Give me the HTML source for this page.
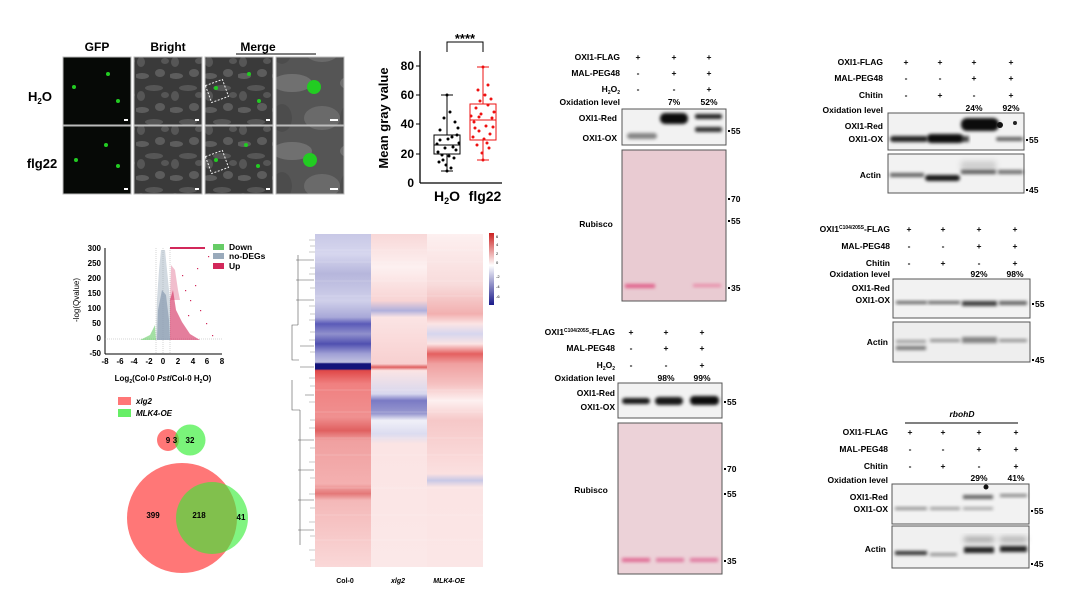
<!DOCTYPE html>
<html><head><meta charset="utf-8"><style>
html,body{margin:0;padding:0;background:#fff;width:1080px;height:608px;overflow:hidden}
svg{display:block;font-family:"Liberation Sans",Arial,sans-serif;font-weight:bold}
</style></head><body>
<svg width="1080" height="608" viewBox="0 0 1080 608" xmlns="http://www.w3.org/2000/svg">
<defs>
<filter id="b1" x="-20%" y="-80%" width="140%" height="260%"><feGaussianBlur stdDeviation="1.5"/></filter>
<filter id="b2" x="-20%" y="-80%" width="140%" height="260%"><feGaussianBlur stdDeviation="3"/></filter>
<filter id="b3" x="-20%" y="-20%" width="140%" height="140%"><feGaussianBlur stdDeviation="2"/></filter>
<pattern id="tex" width="34" height="34" patternUnits="userSpaceOnUse">
<rect width="34" height="34" fill="#3a3a3a"/>
<ellipse cx="6" cy="8" rx="7" ry="3" fill="#888" fill-opacity=".45"/>
<ellipse cx="24" cy="5" rx="5" ry="4" fill="#999" fill-opacity=".35"/>
<ellipse cx="18" cy="20" rx="9" ry="3" fill="#777" fill-opacity=".45"/>
<ellipse cx="5" cy="28" rx="4" ry="5" fill="#888" fill-opacity=".35"/>
<ellipse cx="29" cy="27" rx="4" ry="3" fill="#888" fill-opacity=".35"/>
</pattern>
<pattern id="tex2" width="68" height="68" patternUnits="userSpaceOnUse">
<rect width="68" height="68" fill="#555"/>
<ellipse cx="20" cy="15" rx="20" ry="9" fill="#999" fill-opacity=".4"/>
<ellipse cx="50" cy="50" rx="18" ry="12" fill="#8a8a8a" fill-opacity=".4"/>
<ellipse cx="10" cy="50" rx="10" ry="14" fill="#444" fill-opacity=".5"/>
</pattern>
<linearGradient id="h0" x1="0" y1="0" x2="0" y2="1">
<stop offset="0" stop-color="#c8c8e6"/><stop offset=".06" stop-color="#d6d6ee"/><stop offset=".12" stop-color="#b6b6dc"/><stop offset=".2" stop-color="#d0d0ea"/><stop offset=".25" stop-color="#a8a8d8"/><stop offset=".27" stop-color="#5a5ab8"/><stop offset=".3" stop-color="#9090cc"/><stop offset=".33" stop-color="#5050b0"/><stop offset=".36" stop-color="#a0a0d5"/><stop offset=".385" stop-color="#c0c0e0"/><stop offset=".39" stop-color="#14147a"/><stop offset=".405" stop-color="#14147a"/><stop offset=".41" stop-color="#e04848"/><stop offset=".45" stop-color="#f08080"/><stop offset=".55" stop-color="#f09090"/><stop offset=".59" stop-color="#e06060"/><stop offset=".62" stop-color="#f0a0a0"/><stop offset=".75" stop-color="#f4b0b0"/><stop offset=".78" stop-color="#e47878"/><stop offset=".8" stop-color="#f4b8b8"/><stop offset="1" stop-color="#fad8d8"/></linearGradient>
<linearGradient id="h1" x1="0" y1="0" x2="0" y2="1">
<stop offset="0" stop-color="#f8d8d8"/><stop offset=".1" stop-color="#fdf0f0"/><stop offset=".2" stop-color="#f8d4d4"/><stop offset=".23" stop-color="#b0b0dc"/><stop offset=".25" stop-color="#fbe4e4"/><stop offset=".39" stop-color="#f8d0d0"/><stop offset=".4" stop-color="#e06060"/><stop offset=".41" stop-color="#fbe4e4"/><stop offset=".48" stop-color="#d8d8ee"/><stop offset=".5" stop-color="#7a7ac4"/><stop offset=".54" stop-color="#9a9ad0"/><stop offset=".56" stop-color="#f0f0f8"/><stop offset=".6" stop-color="#dcdcf0"/><stop offset=".63" stop-color="#fbe4e4"/><stop offset="1" stop-color="#fbe8e8"/></linearGradient>
<linearGradient id="h2" x1="0" y1="0" x2="0" y2="1">
<stop offset="0" stop-color="#fdf0f0"/><stop offset=".15" stop-color="#f8dcdc"/><stop offset=".24" stop-color="#f2b0b0"/><stop offset=".27" stop-color="#fbe4e4"/><stop offset=".3" stop-color="#d6d6ee"/><stop offset=".33" stop-color="#fbe4e4"/><stop offset=".36" stop-color="#e46060"/><stop offset=".39" stop-color="#f0a0a0"/><stop offset=".45" stop-color="#f5c0c0"/><stop offset=".5" stop-color="#fdf0f0"/><stop offset=".56" stop-color="#f6c8c8"/><stop offset=".72" stop-color="#fbe0e0"/><stop offset=".74" stop-color="#c8c8e6"/><stop offset=".76" stop-color="#fbe4e4"/><stop offset="1" stop-color="#fbe6e6"/></linearGradient>
<linearGradient id="cb" x1="0" y1="0" x2="0" y2="1"><stop offset="0" stop-color="#c22"/><stop offset=".45" stop-color="#fff"/><stop offset="1" stop-color="#1a1a8a"/></linearGradient>
</defs>

<!-- microscopy -->
<g font-size="12" text-anchor="middle">
<text x="97" y="51">GFP</text><text x="168" y="51">Bright</text><text x="258" y="51">Merge</text>
<line x1="236" y1="54" x2="316" y2="54" stroke="#000"/>
<text x="40" y="101" font-size="13">H<tspan font-size="8" dy="3">2</tspan><tspan dy="-3">O</tspan></text>
<text x="42" y="168" font-size="13">flg22</text>
</g>
<g stroke="#bbb">
<rect x="63" y="57" width="68" height="68" fill="#060906"/><rect x="134" y="57" width="68" height="68" fill="url(#tex)"/><rect x="205" y="57" width="68" height="68" fill="url(#tex)"/><rect x="276" y="57" width="68" height="68" fill="url(#tex2)"/>
<rect x="63" y="126" width="68" height="68" fill="#060906"/><rect x="134" y="126" width="68" height="68" fill="url(#tex)"/><rect x="205" y="126" width="68" height="68" fill="url(#tex)"/><rect x="276" y="126" width="68" height="68" fill="url(#tex2)"/>
</g>
<g fill="#2c2">
<circle cx="74" cy="87" r="2"/><circle cx="108" cy="74" r="2"/><circle cx="118" cy="101" r="2"/>
<circle cx="76" cy="160" r="2"/><circle cx="106" cy="145" r="2"/><circle cx="118" cy="166" r="2"/>
<circle cx="216" cy="88" r="2"/><circle cx="249" cy="74" r="2"/><circle cx="259" cy="101" r="2"/>
<circle cx="216" cy="160" r="2"/><circle cx="246" cy="145" r="2"/><circle cx="258" cy="166" r="2"/>
<circle cx="314" cy="87" r="7"/><circle cx="310" cy="160" r="7"/>
</g>
<g fill="none" stroke="#eee" stroke-dasharray="2,1.5">
<rect x="208" y="82" width="18" height="18" transform="rotate(-20 217 91)"/><rect x="208" y="153" width="18" height="18" transform="rotate(-20 217 162)"/>
</g>
<g fill="#fff"><rect x="124" y="119" width="4" height="2"/><rect x="195" y="119" width="4" height="2"/><rect x="266" y="119" width="4" height="2"/><rect x="330" y="119" width="8" height="2"/>
<rect x="124" y="188" width="4" height="2"/><rect x="195" y="188" width="4" height="2"/><rect x="266" y="188" width="4" height="2"/><rect x="330" y="188" width="8" height="2"/></g>

<!-- boxplot -->
<g font-size="12">
<line x1="420" y1="51" x2="420" y2="183" stroke="#000" stroke-width="1.3"/>
<line x1="420" y1="183" x2="502" y2="183" stroke="#000" stroke-width="1.3"/>
<g text-anchor="end"><text x="414" y="70">80</text><text x="414" y="99">60</text><text x="414" y="128">40</text><text x="414" y="158">20</text><text x="414" y="187">0</text></g>
<g stroke="#000"><line x1="416" y1="66" x2="420" y2="66"/><line x1="416" y1="95" x2="420" y2="95"/><line x1="416" y1="124" x2="420" y2="124"/><line x1="416" y1="154" x2="420" y2="154"/></g>
<text transform="translate(388,118) rotate(-90)" text-anchor="middle" font-size="13">Mean gray value</text>
<text x="447" y="201" text-anchor="middle" font-size="14">H<tspan font-size="9" dy="3">2</tspan><tspan dy="-3">O</tspan></text>
<text x="485" y="201" text-anchor="middle" font-size="14">flg22</text>
<path d="M447 52 V42 H483 V52" fill="none" stroke="#000"/>
<text x="465" y="43" text-anchor="middle" font-size="13">****</text>
</g>
<g stroke="#000" fill="none">
<line x1="447" y1="95" x2="447" y2="171"/><line x1="441" y1="95" x2="453" y2="95"/><line x1="441" y1="171" x2="453" y2="171"/>
<rect x="434" y="135" width="26" height="19" fill="#fff"/><line x1="434" y1="145" x2="460" y2="145"/>
</g>
<g fill="#000">
<circle cx="440" cy="140" r="1.5"/><circle cx="452" cy="137" r="1.5"/><circle cx="445" cy="148" r="1.5"/><circle cx="456" cy="150" r="1.5"/><circle cx="438" cy="152" r="1.5"/><circle cx="449" cy="156" r="1.5"/><circle cx="443" cy="160" r="1.5"/><circle cx="454" cy="158" r="1.5"/><circle cx="446" cy="165" r="1.5"/><circle cx="451" cy="168" r="1.5"/><circle cx="458" cy="128" r="1.5"/><circle cx="440" cy="130" r="1.5"/><circle cx="455" cy="122" r="1.5"/><circle cx="444" cy="118" r="1.5"/><circle cx="450" cy="112" r="1.5"/><circle cx="437" cy="144" r="1.5"/><circle cx="459" cy="143" r="1.5"/><circle cx="448" cy="139" r="1.5"/><circle cx="442" cy="155" r="1.5"/><circle cx="453" cy="147" r="1.5"/><circle cx="447" cy="171" r="1.5"/><circle cx="447" cy="95" r="1.5"/><circle cx="439" cy="162" r="1.5"/><circle cx="457" cy="135" r="1.5"/>
</g>
<g stroke="#e11" fill="none">
<line x1="483" y1="67" x2="483" y2="160"/><line x1="477" y1="67" x2="489" y2="67"/><line x1="477" y1="160" x2="489" y2="160"/>
<rect x="470" y="104" width="26" height="36" fill="#fff"/><line x1="470" y1="120" x2="496" y2="120"/>
</g>
<g fill="#e11">
<circle cx="476" cy="108" r="1.5"/><circle cx="488" cy="105" r="1.5"/><circle cx="481" cy="114" r="1.5"/><circle cx="492" cy="118" r="1.5"/><circle cx="474" cy="122" r="1.5"/><circle cx="486" cy="126" r="1.5"/><circle cx="479" cy="131" r="1.5"/><circle cx="490" cy="134" r="1.5"/><circle cx="473" cy="137" r="1.5"/><circle cx="484" cy="139" r="1.5"/><circle cx="477" cy="145" r="1.5"/><circle cx="489" cy="148" r="1.5"/><circle cx="482" cy="153" r="1.5"/><circle cx="483" cy="160" r="1.5"/><circle cx="485" cy="95" r="1.5"/><circle cx="478" cy="90" r="1.5"/><circle cx="488" cy="85" r="1.5"/><circle cx="483" cy="67" r="1.5"/><circle cx="494" cy="112" r="1.5"/><circle cx="471" cy="116" r="1.5"/><circle cx="480" cy="101" r="1.5"/><circle cx="491" cy="99" r="1.5"/><circle cx="475" cy="128" r="1.5"/><circle cx="493" cy="127" r="1.5"/><circle cx="487" cy="143" r="1.5"/><circle cx="479" cy="117" r="1.5"/>
</g>

<!-- volcano -->
<g font-size="8">
<line x1="105" y1="248" x2="105" y2="354" stroke="#000"/>
<line x1="105" y1="354" x2="222" y2="354" stroke="#000"/>
<g text-anchor="end"><text x="101" y="251">300</text><text x="101" y="266">250</text><text x="101" y="281">200</text><text x="101" y="296">150</text><text x="101" y="311">100</text><text x="101" y="326">50</text><text x="101" y="341">0</text><text x="101" y="356">-50</text></g>
<g text-anchor="middle"><text x="105" y="364">-8</text><text x="120" y="364">-6</text><text x="134" y="364">-4</text><text x="149" y="364">-2</text><text x="163" y="364">0</text><text x="178" y="364">2</text><text x="193" y="364">4</text><text x="207" y="364">6</text><text x="222" y="364">8</text></g>
<text transform="translate(79,300) rotate(-90)" text-anchor="middle" font-weight="normal">-log(Qvalue)</text>
<text x="163" y="381" text-anchor="middle">Log<tspan font-size="5" dy="2">2</tspan><tspan dy="-2">(Col-0 </tspan><tspan font-style="italic">Pst</tspan>/Col-0 H<tspan font-size="5" dy="2">2</tspan><tspan dy="-2">O)</tspan></text>
<rect x="213" y="244" width="11" height="6" fill="#6c6"/><text x="229" y="250" font-size="8.5">Down</text>
<rect x="213" y="253" width="11" height="6" fill="#9ab"/><text x="229" y="259" font-size="8.5">no-DEGs</text>
<rect x="213" y="263" width="11" height="6" fill="#d2285a"/><text x="229" y="269" font-size="8.5">Up</text>
</g>
<g stroke="#aaa" stroke-width=".5" stroke-dasharray="1,1"><line x1="105" y1="339" x2="222" y2="339"/><line x1="156" y1="248" x2="156" y2="354"/><line x1="163" y1="248" x2="163" y2="354"/><line x1="170" y1="248" x2="170" y2="354"/></g>
<path d="M156 340 L157 300 L159 270 L161 250 L165 250 L168 280 L170 300 L170 340 Z" fill="#9ab" fill-opacity=".45"/>
<path d="M157 340 L158 310 L162 290 L166 295 L169 320 L170 340 Z" fill="#8a9bb0" fill-opacity=".7"/>
<path d="M170 340 L170 300 L173 290 L176 310 L182 322 L190 334 L200 340 Z" fill="#d2285a" fill-opacity=".6"/>
<path d="M170 300 L171 265 L175 270 L178 290 L180 300 Z" fill="#d2285a" fill-opacity=".3"/>
<rect x="170" y="247" width="35" height="2" fill="#d2285a"/>
<path d="M156 340 L155 325 L150 335 L140 340 Z" fill="#6c6" fill-opacity=".6"/>
<g fill="#d2285a"><rect x="185" y="290" width="1.2" height="1.2"/><rect x="190" y="300" width="1.2" height="1.2"/><rect x="195" y="285" width="1.2" height="1.2"/><rect x="200" y="310" width="1.2" height="1.2"/><rect x="206" y="323" width="1.2" height="1.2"/><rect x="212" y="335" width="1.2" height="1.2"/><rect x="182" y="275" width="1.2" height="1.2"/><rect x="208" y="256" width="1.2" height="1.2"/><rect x="197" y="268" width="1.2" height="1.2"/><rect x="188" y="315" width="1.2" height="1.2"/></g>

<!-- venn -->
<rect x="118" y="397" width="13" height="8" fill="#f77"/>
<text x="136" y="404" font-size="8" font-style="italic">xlg2</text>
<rect x="118" y="409" width="13" height="8" fill="#6e6"/>
<text x="136" y="416" font-size="8" font-style="italic">MLK4-OE</text>
<circle cx="168" cy="440" r="11" fill="#f55" fill-opacity=".8"/>
<circle cx="190" cy="440" r="15.5" fill="#3e3" fill-opacity=".65"/>
<circle cx="182" cy="518" r="55" fill="#f55" fill-opacity=".8"/>
<circle cx="212" cy="518" r="36" fill="#3e3" fill-opacity=".62"/>
<g font-size="8" text-anchor="middle"><text x="168" y="443">9</text><text x="175" y="443">3</text><text x="190" y="443">32</text>
<text x="153" y="518">399</text><text x="199" y="518">218</text><text x="241" y="520">41</text></g>

<!-- heatmap -->
<rect x="315" y="234" width="56" height="333" fill="url(#h0)"/>
<rect x="371" y="234" width="56" height="333" fill="url(#h1)"/>
<rect x="427" y="234" width="56" height="333" fill="url(#h2)"/>
<g stroke="#fff" stroke-opacity=".35" stroke-width=".6">
<line x1="315" y1="250" x2="483" y2="250"/><line x1="315" y1="262" x2="483" y2="262"/><line x1="315" y1="281" x2="483" y2="281"/><line x1="315" y1="296" x2="483" y2="296"/><line x1="315" y1="390" x2="483" y2="390"/><line x1="315" y1="412" x2="483" y2="412"/><line x1="315" y1="438" x2="483" y2="438"/><line x1="315" y1="455" x2="483" y2="455"/><line x1="315" y1="488" x2="483" y2="488"/><line x1="315" y1="515" x2="483" y2="515"/><line x1="315" y1="540" x2="483" y2="540"/></g>
<path d="M299 360 H292 V325 H298 M292 380 V410 H300 M298 325 V255 M300 410 V545 M296 260 H314 M296 300 H314 M298 440 H314 M298 500 H314 M300 367 H314 M300 346 H314 M296 280 H314 M298 470 H314 M298 530 H314 M305 395 H314" fill="none" stroke="#555" stroke-width=".6"/>
<g stroke="#777" stroke-width=".4"><path d="M309 240 H315 M310 246 H315 M309 252 H315 M310 268 H315 M309 274 H315 M310 288 H315 M309 306 H315 M310 314 H315 M309 320 H315 M310 332 H315 M309 340 H315 M310 352 H315 M309 378 H315 M310 386 H315 M309 402 H315 M310 420 H315 M309 428 H315 M310 448 H315 M309 462 H315 M310 478 H315 M309 494 H315 M310 508 H315 M309 522 H315 M310 536 H315 M309 550 H315 M310 560 H315"/></g>
<g font-size="7" text-anchor="middle"><text x="345" y="583">Col-0</text><text x="398" y="583" font-style="italic">xlg2</text><text x="449" y="583" font-style="italic">MLK4-OE</text></g>
<rect x="489" y="233" width="5" height="72" fill="url(#cb)"/>
<g font-size="4" font-weight="normal"><text x="496" y="238">6</text><text x="496" y="246">4</text><text x="496" y="255">2</text><text x="496" y="264">0</text><text x="496" y="278">-2</text><text x="496" y="288">-4</text><text x="496" y="298">-6</text></g>

<!-- blots -->
<g font-size="8.5">
<g text-anchor="end"><text x="620" y="60">OXI1-FLAG</text><text x="620" y="76">MAL-PEG48</text><text x="620" y="92">H<tspan font-size="5" dy="2">2</tspan><tspan dy="-2">O</tspan><tspan font-size="5" dy="2">2</tspan></text><text x="620" y="105">Oxidation level</text>
<text x="617" y="121">OXI1-Red</text><text x="617" y="141">OXI1-OX</text></g>
<g text-anchor="middle"><text x="638" y="60">+</text><text x="674" y="60">+</text><text x="709" y="60">+</text><text x="638" y="76">-</text><text x="674" y="76">+</text><text x="709" y="76">+</text><text x="638" y="92">-</text><text x="674" y="92">-</text><text x="709" y="92">+</text><text x="674" y="105">7%</text><text x="709" y="105">52%</text><text x="596" y="227">Rubisco</text></g>
<rect x="622" y="109" width="104" height="36" fill="#f2f2f2" stroke="#555"/>
<rect x="627" y="133" width="30" height="6" rx="3" fill-opacity=".45" filter="url(#b1)"/>
<rect x="660" y="113" width="28" height="11" rx="5" fill-opacity=".95" filter="url(#b1)"/>
<rect x="695" y="114" width="27" height="5" rx="2" fill-opacity=".85" filter="url(#b1)"/>
<rect x="695" y="127" width="27" height="5" rx="2" fill-opacity=".8" filter="url(#b1)"/>
<rect x="622" y="150" width="104" height="151" fill="#e9cbd2" stroke="#555"/>
<rect x="625" y="284" width="30" height="4" fill="#e0608a" filter="url(#b1)"/><rect x="693" y="284" width="28" height="3" fill="#e88aa8" filter="url(#b1)"/>
<g><rect x="728" y="130" width="2" height="2"/><text x="731" y="134">55</text><rect x="728" y="198" width="2" height="2"/><text x="731" y="202">70</text><rect x="728" y="220" width="2" height="2"/><text x="731" y="224">55</text><rect x="728" y="287" width="2" height="2"/><text x="731" y="291">35</text></g>

<g text-anchor="end"><text x="615" y="335">OXI1<tspan font-size="5" dy="-3">C104/205S</tspan><tspan dy="3">-FLAG</tspan></text><text x="615" y="351">MAL-PEG48</text><text x="615" y="368">H<tspan font-size="5" dy="2">2</tspan><tspan dy="-2">O</tspan><tspan font-size="5" dy="2">2</tspan></text><text x="615" y="381">Oxidation level</text>
<text x="615" y="396">OXI1-Red</text><text x="615" y="410">OXI1-OX</text></g>
<g text-anchor="middle"><text x="631" y="335">+</text><text x="666" y="335">+</text><text x="702" y="335">+</text><text x="631" y="351">-</text><text x="666" y="351">+</text><text x="702" y="351">+</text><text x="631" y="368">-</text><text x="666" y="368">-</text><text x="702" y="368">+</text><text x="666" y="381">98%</text><text x="702" y="381">99%</text><text x="591" y="493">Rubisco</text></g>
<rect x="618" y="383" width="104" height="35" fill="#f2f2f2" stroke="#555"/>
<rect x="622" y="398" width="28" height="6" rx="3" fill-opacity=".9" filter="url(#b1)"/>
<rect x="655" y="397" width="28" height="8" rx="4" fill-opacity=".9" filter="url(#b1)"/>
<rect x="690" y="396" width="29" height="9" rx="4" fill-opacity=".95" filter="url(#b1)"/>
<rect x="618" y="423" width="104" height="151" fill="#ecd2d8" stroke="#555"/>
<rect x="622" y="558" width="28" height="4" fill="#e06a94" filter="url(#b1)"/><rect x="656" y="558" width="28" height="4" fill="#e07aa0" filter="url(#b1)"/><rect x="690" y="558" width="28" height="4" fill="#e07aa0" filter="url(#b1)"/>
<g><rect x="724" y="401" width="2" height="2"/><text x="727" y="405">55</text><rect x="724" y="468" width="2" height="2"/><text x="727" y="472">70</text><rect x="724" y="493" width="2" height="2"/><text x="727" y="497">55</text><rect x="724" y="560" width="2" height="2"/><text x="727" y="564">35</text></g>

<g text-anchor="end"><text x="883" y="65">OXI1-FLAG</text><text x="883" y="81">MAL-PEG48</text><text x="883" y="98">Chitin</text><text x="883" y="113">Oxidation level</text>
<text x="883" y="129">OXI1-Red</text><text x="883" y="142">OXI1-OX</text><text x="881" y="178">Actin</text></g>
<g text-anchor="middle"><text x="906" y="65">+</text><text x="940" y="65">+</text><text x="974" y="65">+</text><text x="1011" y="65">+</text>
<text x="906" y="81">-</text><text x="940" y="81">-</text><text x="974" y="81">+</text><text x="1011" y="81">+</text>
<text x="906" y="98">-</text><text x="940" y="98">+</text><text x="974" y="98">-</text><text x="1011" y="98">+</text>
<text x="974" y="111">24%</text><text x="1011" y="111">92%</text></g>
<rect x="888" y="113" width="136" height="37" fill="#f2f2f2" stroke="#555"/>
<rect x="890" y="136" width="38" height="6" rx="3" fill-opacity=".85" filter="url(#b1)"/>
<rect x="927" y="134" width="36" height="9" rx="4" fill-opacity=".95" filter="url(#b1)"/>
<rect x="961" y="118" width="38" height="13" rx="6" fill-opacity=".95" filter="url(#b1)"/>
<rect x="961" y="136" width="8" height="6" fill-opacity=".7" filter="url(#b1)"/>
<rect x="996" y="137" width="27" height="4" rx="2" fill-opacity=".6" filter="url(#b1)"/>
<circle cx="1000" cy="125" r="3" fill="#111"/><circle cx="1015" cy="123" r="2" fill="#222"/>
<rect x="888" y="154" width="136" height="39" fill="#f2f2f2" stroke="#555"/>
<rect x="890" y="173" width="34" height="4" fill-opacity=".6" filter="url(#b1)"/>
<rect x="925" y="175" width="35" height="6" rx="3" fill-opacity=".9" filter="url(#b1)"/>
<rect x="961" y="170" width="35" height="4" fill-opacity=".6" filter="url(#b1)"/>
<rect x="998" y="170" width="25" height="4" fill-opacity=".55" filter="url(#b1)"/>
<rect x="961" y="161" width="35" height="10" fill-opacity=".15" filter="url(#b2)"/>
<g><rect x="1026" y="139" width="2" height="2"/><text x="1029" y="143">55</text><rect x="1026" y="189" width="2" height="2"/><text x="1029" y="193">45</text></g>

<g text-anchor="end"><text x="890" y="232">OXI1<tspan font-size="5" dy="-3">C104/205S</tspan><tspan dy="3">-FLAG</tspan></text><text x="890" y="249">MAL-PEG48</text><text x="890" y="266">Chitin</text><text x="890" y="277">Oxidation level</text>
<text x="890" y="291">OXI1-Red</text><text x="890" y="303">OXI1-OX</text><text x="888" y="345">Actin</text></g>
<g text-anchor="middle"><text x="909" y="232">+</text><text x="943" y="232">+</text><text x="979" y="232">+</text><text x="1015" y="232">+</text>
<text x="909" y="249">-</text><text x="943" y="249">-</text><text x="979" y="249">+</text><text x="1015" y="249">+</text>
<text x="909" y="266">-</text><text x="943" y="266">+</text><text x="979" y="266">-</text><text x="1015" y="266">+</text>
<text x="979" y="277">92%</text><text x="1015" y="277">98%</text></g>
<rect x="893" y="279" width="137" height="39" fill="#f2f2f2" stroke="#555"/>
<rect x="896" y="301" width="31" height="3" fill-opacity=".6" filter="url(#b1)"/>
<rect x="928" y="301" width="32" height="3" fill-opacity=".6" filter="url(#b1)"/>
<rect x="962" y="301" width="35" height="5" fill-opacity=".75" filter="url(#b1)"/>
<rect x="999" y="301" width="28" height="4" fill-opacity=".6" filter="url(#b1)"/>
<rect x="893" y="322" width="137" height="40" fill="#eeeeee" stroke="#555"/>
<rect x="896" y="340" width="30" height="3" fill-opacity=".35" filter="url(#b1)"/>
<rect x="896" y="346" width="30" height="4" fill-opacity=".5" filter="url(#b1)"/>
<rect x="930" y="339" width="30" height="3" fill-opacity=".4" filter="url(#b1)"/>
<rect x="962" y="337" width="35" height="6" fill-opacity=".45" filter="url(#b1)"/>
<rect x="999" y="339" width="28" height="3" fill-opacity=".4" filter="url(#b1)"/>
<g><rect x="1032" y="303" width="2" height="2"/><text x="1035" y="307">55</text><rect x="1032" y="359" width="2" height="2"/><text x="1035" y="363">45</text></g>

<text x="962" y="417" text-anchor="middle" font-style="italic">rbohD</text>
<line x1="905" y1="423" x2="1018" y2="423" stroke="#000"/>
<g text-anchor="end"><text x="888" y="435">OXI1-FLAG</text><text x="888" y="452">MAL-PEG48</text><text x="888" y="469">Chitin</text><text x="888" y="483">Oxidation level</text>
<text x="888" y="500">OXI1-Red</text><text x="888" y="512">OXI1-OX</text><text x="886" y="552">Actin</text></g>
<g text-anchor="middle"><text x="910" y="435">+</text><text x="943" y="435">+</text><text x="979" y="435">+</text><text x="1016" y="435">+</text>
<text x="910" y="452">-</text><text x="943" y="452">-</text><text x="979" y="452">+</text><text x="1016" y="452">+</text>
<text x="910" y="469">-</text><text x="943" y="469">+</text><text x="979" y="469">-</text><text x="1016" y="469">+</text>
<text x="979" y="481">29%</text><text x="1016" y="481">41%</text></g>
<rect x="892" y="484" width="137" height="40" fill="#f2f2f2" stroke="#555"/>
<rect x="895" y="507" width="32" height="3" fill-opacity=".4" filter="url(#b1)"/>
<rect x="930" y="507" width="30" height="3" fill-opacity=".35" filter="url(#b1)"/>
<rect x="963" y="495" width="30" height="4" fill-opacity=".6" filter="url(#b1)"/>
<rect x="1000" y="494" width="27" height="3" fill-opacity=".45" filter="url(#b1)"/>
<rect x="963" y="507" width="30" height="3" fill-opacity=".3" filter="url(#b1)"/>
<circle cx="986" cy="487" r="2.5" fill="#111"/>
<rect x="892" y="526" width="137" height="42" fill="#f0f0f0" stroke="#555"/>
<rect x="895" y="551" width="32" height="4" fill-opacity=".8" filter="url(#b1)"/>
<rect x="930" y="553" width="27" height="3" fill-opacity=".4" filter="url(#b1)"/>
<rect x="964" y="547" width="30" height="6" fill-opacity=".85" filter="url(#b1)"/>
<rect x="1000" y="546" width="27" height="6" fill-opacity=".85" filter="url(#b1)"/>
<rect x="964" y="537" width="30" height="5" fill-opacity=".35" filter="url(#b2)"/>
<rect x="1000" y="537" width="27" height="5" fill-opacity=".3" filter="url(#b2)"/>
<g><rect x="1031" y="510" width="2" height="2"/><text x="1034" y="514">55</text><rect x="1031" y="563" width="2" height="2"/><text x="1034" y="567">45</text></g>
</g>
</svg>
</body></html>
